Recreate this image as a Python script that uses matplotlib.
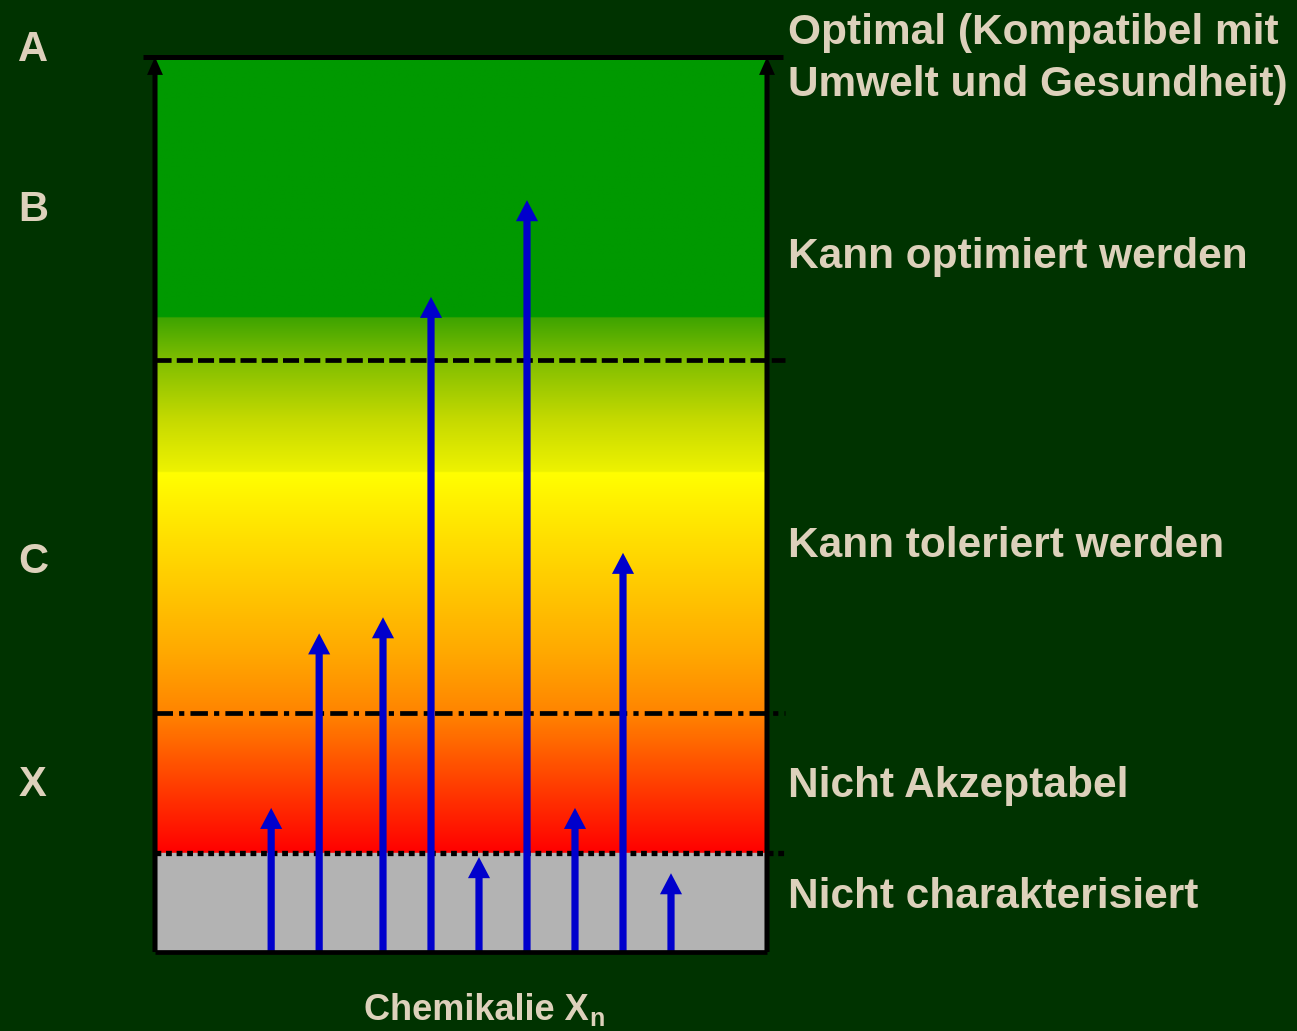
import matplotlib

matplotlib.use("Agg")
import matplotlib.pyplot as plt
import numpy as np
from matplotlib.colors import to_rgb

W, H = 1297, 1031
BG = "#003300"
TEXT = "#ddd1bb"
BLUE = "#0000cc"

plt.rcParams["font.family"] = ["Liberation Sans", "DejaVu Sans"]
plt.rcParams["font.weight"] = "bold"

# chemicals (x position in the box) and their level reached (0 = bottom, 100 = optimal)
chem_x = [2.42, 3.42, 4.75, 5.75, 6.75, 7.75, 8.75, 9.75, 10.75]
chem_level = [16.1, 35.6, 37.4, 73.2, 10.6, 84.0, 16.1, 44.6, 8.8]

# class boundaries
level_optimize = 66.1   # dashed
level_tolerate = 26.7   # dash-dot
level_char = 11.1       # dotted
level_top = 100

band_labels = ["A", "B", "C", "X"]
band_text = ["Optimal (Kompatibel mit", "Umwelt und Gesundheit)", "Kann optimiert werden",
             "Kann toleriert werden", "Nicht Akzeptabel", "Nicht charakterisiert"]

# colour ramp of the background (level, colour)
RAMP = [
    (level_char, "#ff0000"), (17.0, "#ff3000"), (22.6, "#ff6000"), (26.7, "#ff8400"),
    (33.7, "#ffaa00"), (41.6, "#ffcc00"), (48.3, "#ffe800"), (53.6, "#ffff00"),
    (53.7, "#eef200"), (59.4, "#c6da00"), (66.1, "#80be00"), (70.9, "#3ea400"),
    (71.0, "#009900"), (level_top, "#009900"),
]

XMAX = 12.75

fig = plt.figure(figsize=(W / 100, H / 100), dpi=100, facecolor=BG)
ax = fig.add_axes([155 / W, 79 / H, 612 / W, 895 / H])
ax.set_xlim(0, XMAX)
ax.set_ylim(0, level_top)
ax.axis("off")

# gradient background
lv = np.linspace(level_char, level_top, 1200)
stops = np.array([s[0] for s in RAMP])
cols = np.array([to_rgb(s[1]) for s in RAMP])
img = np.stack([np.interp(lv, stops, cols[:, k]) for k in range(3)], axis=-1)
img = np.repeat(img[:, None, :], 2, axis=1)
ax.imshow(img, origin="lower", extent=[0, XMAX, level_char, level_top],
          aspect="auto", interpolation="bilinear", zorder=0)
ax.axhspan(0, level_char, color="#b3b3b3", zorder=0)

# boundary lines
lw = 3.4
ax.plot([0, 13.125], [level_optimize] * 2, color="k", lw=lw,
        linestyle=(0, (3.4, 1.1)), clip_on=False, zorder=2)
ax.plot([0, 13.125], [level_tolerate] * 2, color="k", lw=lw,
        linestyle=(0, (3.7, 1.3, 1.1, 1.3)), clip_on=False, zorder=2)
ax.plot([0, 13.125], [level_char] * 2, color="k", lw=3.8,
        linestyle=(0, (1.1, 0.9)), clip_on=False, zorder=2)

# chemical arrows
for x, top in zip(chem_x, chem_level):
    ax.arrow(x, 0, 0, top, width=0.15, head_width=0.46, head_length=2.35,
             length_includes_head=True, color=BLUE, lw=0, zorder=3)

# frame
for x in (0, XMAX):
    ax.arrow(x, 0, 0, level_top, width=0.105, head_width=0.33, head_length=2.0,
             length_includes_head=True, color="k", lw=0, clip_on=False, zorder=4)
ax.plot([-0.25, 13.08], [level_top] * 2, color="k", lw=3.6, clip_on=False,
        zorder=4, solid_capstyle="butt")
ax.plot([0, XMAX], [0, 0], color="k", lw=3.4, clip_on=False, zorder=4,
        solid_capstyle="butt")


def ftext(x, y, s, **kw):
    fig.text(x / W, 1 - y / H, s, color=TEXT, fontweight="bold", **kw)


for lab, y in zip(band_labels, [61, 221, 573, 796]):
    ftext(33, y, lab, fontsize=30, ha="center", va="baseline")

for s, y in zip(band_text, [44, 96, 268, 557, 797, 908]):
    ftext(788, y, s, fontsize=30.5, ha="left", va="baseline")

ftext(589, 1020, "Chemikalie X", fontsize=26, ha="right", va="baseline")
ftext(589, 1026, "n", fontsize=18, ha="left", va="baseline")

fig.savefig("out.png", dpi=100, facecolor=BG)
